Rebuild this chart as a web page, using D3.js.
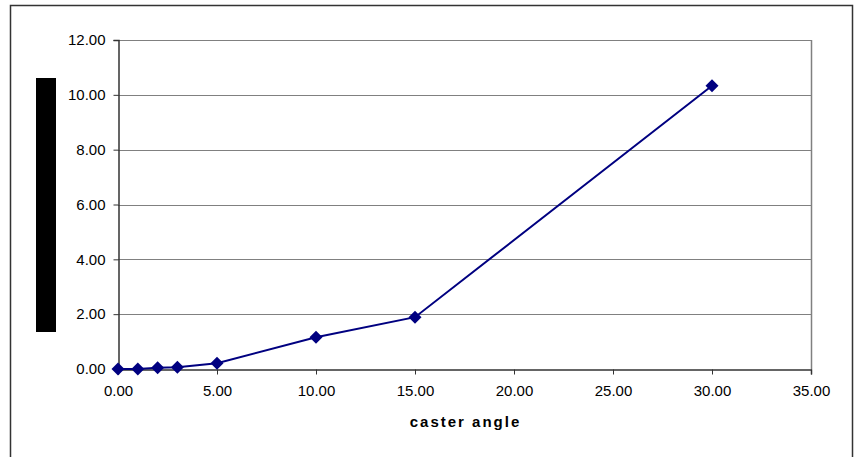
<!DOCTYPE html>
<html>
<head>
<meta charset="utf-8">
<script src="https://cdn.jsdelivr.net/npm/d3@7"></script>
<style>
  body { margin: 0; background: #fff; }
  svg text { font-family: "Liberation Sans", Arial, sans-serif; }
</style>
</head>
<body>
<div class="container"></div>
<script>
// caster angle vs value
var casterAngle = [0, 1, 2, 3, 5, 10, 15, 30];
var values = [0.00, 0.00, 0.05, 0.06, 0.21, 1.16, 1.89, 10.33];
var xTicks = [0, 5, 10, 15, 20, 25, 30, 35];
var yTicks = [0, 2, 4, 6, 8, 10, 12];
var xTitle = "caster angle";

var width = 859, height = 457;
var plot = { left: 118, right: 811, top: 40, bottom: 369 };

var svg = d3.select(".container")
    .append("svg")
    .attr("width", width)
    .attr("height", height);

// outer chart frame (bottom runs off the picture)
svg.append("rect")
    .attr("x", 10.5).attr("y", 5.5)
    .attr("width", 842).attr("height", 470)
    .attr("fill", "none")
    .attr("stroke", "#333")
    .attr("stroke-width", 1.5);

var x = d3.scaleLinear().domain([0, 35]).range([plot.left, plot.right]);
var y = d3.scaleLinear().domain([0, 12]).range([plot.bottom, plot.top]);

// grid lines
svg.append("g")
    .selectAll("line")
    .data(yTicks.filter(function(d) { return d > 0; }))
    .enter()
    .append("line")
    .attr("x1", plot.left).attr("x2", plot.right)
    .attr("y1", function(d) { return Math.round(y(d)) + 0.5; })
    .attr("y2", function(d) { return Math.round(y(d)) + 0.5; })
    .attr("stroke", "#808080")
    .attr("stroke-width", 1);

// right border of plot area
svg.append("line")
    .attr("x1", plot.right + 0.5).attr("x2", plot.right + 0.5)
    .attr("y1", plot.top).attr("y2", plot.bottom)
    .attr("stroke", "#808080")
    .attr("stroke-width", 1.5);

// axes
var xAxis = d3.axisBottom(x)
    .tickValues(xTicks)
    .tickSize(5)
    .tickPadding(11)
    .tickFormat(d3.format(".2f"));
var yAxis = d3.axisLeft(y)
    .tickValues(yTicks)
    .tickSize(5)
    .tickPadding(8)
    .tickFormat(d3.format(".2f"));

var gx = svg.append("g")
    .attr("transform", "translate(0," + (plot.bottom + 0.5) + ")")
    .call(xAxis);
var gy = svg.append("g")
    .attr("transform", "translate(" + (plot.left + 0.5) + ",0)")
    .call(yAxis);

[gx, gy].forEach(function(g) {
    g.attr("font-size", null);
    g.select(".domain").attr("stroke", "#333").attr("stroke-width", 1.5);
    g.selectAll(".tick line").attr("stroke", "#333");
    g.selectAll(".tick text")
        .attr("fill", "#000")
        .style("font-size", "15px")
        .style("font-family", "'Liberation Sans', Arial, sans-serif");
});

// axis title
svg.append("text")
    .attr("x", (plot.left + plot.right) / 2 + 1)
    .attr("y", 427)
    .attr("text-anchor", "middle")
    .style("font-size", "15px")
    .style("font-weight", "bold")
    .style("letter-spacing", "2px")
    .text(xTitle);

// y title block (shown as solid black in the reference)
svg.append("rect")
    .attr("x", 36).attr("y", 78)
    .attr("width", 20).attr("height", 254)
    .attr("fill", "#000");

// series
var points = casterAngle.map(function(a, i) { return [a, values[i]]; });

var line = d3.line()
    .x(function(d) { return x(d[0]); })
    .y(function(d) { return y(d[1]); });

svg.append("path")
    .datum(points)
    .attr("d", line)
    .attr("fill", "none")
    .attr("stroke", "#000080")
    .attr("stroke-width", 2);

svg.append("g")
    .selectAll("path")
    .data(points)
    .enter()
    .append("path")
    .attr("transform", function(d) {
        return "translate(" + x(d[0]) + "," + y(d[1]) + ")";
    })
    .attr("d", "M0,-6.5L6.5,0L0,6.5L-6.5,0Z")
    .attr("fill", "#000080");
</script>
</body>
</html>
